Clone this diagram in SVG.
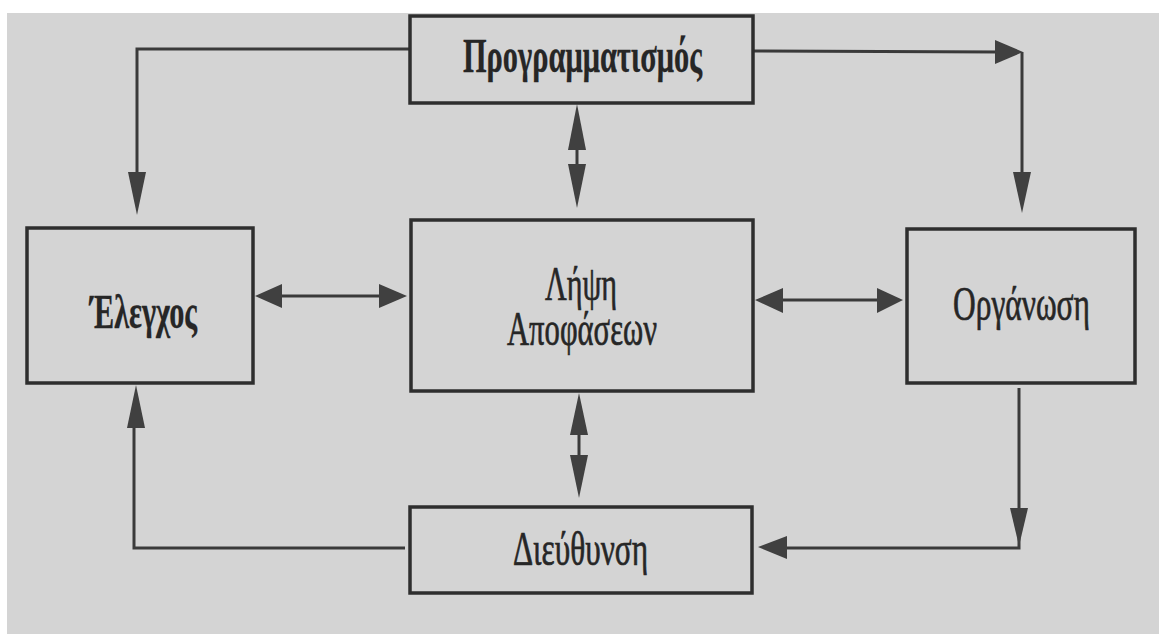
<svg xmlns="http://www.w3.org/2000/svg" width="1159" height="634" viewBox="0 0 1159 634">
<style>
.box{fill:none;stroke:#2e2e2e;stroke-width:3.5}
.ln{fill:none;stroke:#3a3a3a;stroke-width:3}
.ah{fill:#404040;stroke:none}
.t{font-family:"Liberation Serif","Times New Roman",serif;font-size:48px;fill:#262626;stroke:#262626;stroke-width:0.7}
.b{font-weight:bold;stroke-width:0.3}
</style>
<rect x="0" y="0" width="1159" height="634" fill="#ffffff"/>
<rect x="7" y="13" width="1152" height="621" fill="#d4d4d4"/>
<g id="connectors">
<polyline class="ln" points="410,49 137,49 137,180"/>
<polygon class="ah" points="128,172 146,172 137,215"/>
<polyline class="ln" points="753,51 1000,52"/>
<polygon class="ah" points="995,40 1023,52 995,64"/>
<polyline class="ln" points="1022,52 1022,180"/>
<polygon class="ah" points="1013,172 1031,172 1022,213"/>
<line class="ln" x1="577" y1="140" x2="577" y2="175"/>
<polygon class="ah" points="577,104 586,150 568,150"/>
<polygon class="ah" points="568,164 586,164 577,208"/>
<line class="ln" x1="275" y1="296" x2="390" y2="296"/>
<polygon class="ah" points="255,296 282,284 282,308"/>
<polygon class="ah" points="407,296 379,284 379,308"/>
<line class="ln" x1="775" y1="300" x2="885" y2="300"/>
<polygon class="ah" points="755,300 783,288 783,313"/>
<polygon class="ah" points="903,300 877,288 877,313"/>
<polyline class="ln" points="1019,388 1019,548 785,548"/>
<polygon class="ah" points="1010,508 1028,508 1019,546"/>
<polygon class="ah" points="758,547 787,536 787,559"/>
<polyline class="ln" points="405,548 134,548 134,420"/>
<polygon class="ah" points="127,428 145,428 136,385"/>
<line class="ln" x1="579" y1="425" x2="579" y2="465"/>
<polygon class="ah" points="579,393 588,435 570,435"/>
<polygon class="ah" points="570,455 588,455 579,498"/>
</g>
<g id="node-programmatismos">
<rect class="box" x="410" y="16" width="343" height="87"/>
<text class="t b" x="463" y="72" textLength="239" lengthAdjust="spacingAndGlyphs">Προγραμματισμός</text>
</g>
<g id="node-elegxos">
<rect class="box" x="27" y="228" width="226" height="155"/>
<text class="t b" x="90" y="328" textLength="107" lengthAdjust="spacingAndGlyphs">Έλεγχος</text>
</g>
<g id="node-lipsi">
<rect class="box" x="411" y="220" width="342" height="171"/>
<text class="t" x="545" y="300" textLength="72" lengthAdjust="spacingAndGlyphs">Λήψη</text>
<text class="t" x="507" y="345" textLength="150" lengthAdjust="spacingAndGlyphs">Αποφάσεων</text>
</g>
<g id="node-organosi">
<rect class="box" x="907" y="229" width="228" height="154"/>
<text class="t" x="953" y="320" textLength="137" lengthAdjust="spacingAndGlyphs">Οργάνωση</text>
</g>
<g id="node-dieuthinsi">
<rect class="box" x="410" y="507" width="342" height="86"/>
<text class="t" x="513" y="565" textLength="135" lengthAdjust="spacingAndGlyphs">Διεύθυνση</text>
</g>
</svg>
